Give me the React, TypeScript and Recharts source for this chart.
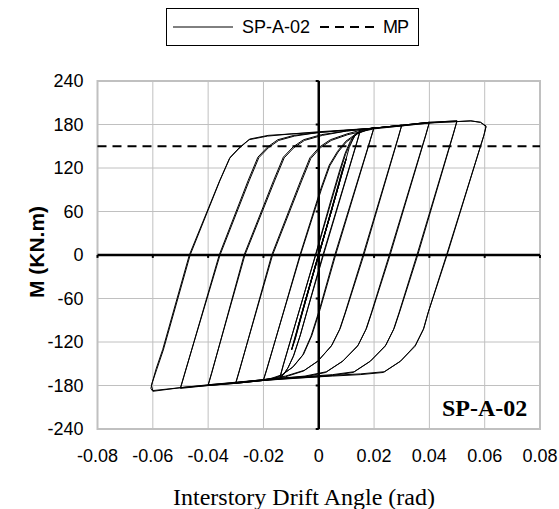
import {
  ScatterChart,
  Scatter,
  XAxis,
  YAxis,
  CartesianGrid,
  ReferenceLine,
  ReferenceArea,
  ReferenceDot,
  Legend,
  Label,
} from 'recharts';

// tick labels
const driftTicks = [-0.08, -0.06, -0.04, -0.02, 0, 0.02, 0.04, 0.06, 0.08];
const momentTicks = [-240, -180, -120, -60, 0, 60, 120, 180, 240];

// plastic moment of the section
const mpValue = 150;

// hysteresis record, [drift angle (rad), moment (kN.m)], grouped by amplitude
const cycle005 = [[0, 0], [0.0025, 33], [0.005, 66], [0.0025, 34], [0, 2], [-0.0025, -31], [-0.005, -65], [-0.0025, -33], [0, -1]];
const cycle0075 = [[0.0038, 50], [0.0075, 100], [0.004, 55], [0.0003, 4], [-0.0038, -49], [-0.0075, -99], [-0.004, -54], [-0.0003, -3]];
const cycle010 = [
  [0.005, 66], [0.0099, 133], [0.0085, 117], [0.0012, 16], [-0.005, -65], [-0.0098, -131], [-0.0085, -116], [-0.0012, -14],
  [0.005, 66], [0.0099, 132], [0.0085, 116], [0.0013, 17], [-0.005, -64], [-0.0098, -130], [-0.0085, -115], [-0.0013, -15],
];
const cycle015 = [
  [0.0, 2], [0.006, 80], [0.0095, 127], [0.011, 148], [0.0128, 163], [0.015, 172],
  [0.0138, 156], [0.0015, 0], [-0.004, -74], [-0.0068, -112], [-0.0092, -140], [-0.0112, -156], [-0.0128, -165], [-0.014, -169],
  [-0.0128, -152], [-0.0012, 0], [0.0045, 77], [0.0075, 116], [0.0095, 140], [0.0113, 156], [0.013, 166], [0.015, 171],
  [0.0138, 155], [0.0017, 0], [-0.0038, -72], [-0.0066, -110], [-0.009, -138], [-0.011, -155], [-0.0127, -165], [-0.014, -168],
  [-0.0128, -151], [-0.0011, 0], [0.0047, 76], [0.0077, 115], [0.0097, 139], [0.0115, 155], [0.0132, 165], [0.015, 171],
];
const cycle020 = [
  [0.017, 173], [0.02, 176],
  [0.0187, 160], [0.0058, 0], [0.0002, -76], [-0.0028, -112], [-0.0058, -138], [-0.0095, -155], [-0.0135, -166], [-0.017, -171], [-0.02, -173],
  [-0.0187, -157], [-0.0068, 0], [0.0008, 92], [0.0038, 124], [0.0068, 143], [0.0098, 157], [0.0138, 168], [0.017, 172], [0.02, 176],
  [0.0187, 159], [0.0061, 0], [0.0005, -75], [-0.0025, -111], [-0.0055, -137], [-0.0092, -154], [-0.0132, -165], [-0.017, -170], [-0.02, -172],
  [-0.0187, -156], [-0.0066, 0], [0.001, 91], [0.004, 123], [0.007, 142], [0.01, 156], [0.014, 167], [0.017, 172], [0.02, 175],
];
const cycle030 = [
  [0.025, 177], [0.03, 179],
  [0.0287, 162], [0.016, 0], [0.0095, -80], [0.0075, -103], [0.0045, -126], [-0.0005, -147], [-0.0055, -160], [-0.012, -168], [-0.02, -173], [-0.025, -175], [-0.03, -177],
  [-0.0287, -160], [-0.017, 0], [-0.0065, 103], [-0.0032, 134], [0.0003, 149], [0.0042, 159], [0.0102, 167], [0.015, 172], [0.02, 175], [0.025, 177], [0.03, 179],
  [0.0287, 161], [0.0163, 0], [0.0098, -78], [0.0078, -101], [0.0048, -124], [-0.0002, -146], [-0.0052, -159], [-0.012, -167], [-0.02, -172], [-0.03, -176],
  [-0.0287, -159], [-0.0167, 0], [-0.0062, 102], [-0.0029, 133], [0.0006, 148], [0.0045, 158], [0.0105, 166], [0.02, 174], [0.03, 178],
];
const cycle040 = [
  [0.035, 181], [0.04, 183],
  [0.0387, 166], [0.0255, 0], [0.019, -80], [0.017, -103], [0.014, -126], [0.0085, -147], [0.0025, -162], [-0.005, -168], [-0.012, -170], [-0.02, -173], [-0.03, -177], [-0.04, -180],
  [-0.0387, -163], [-0.027, 0], [-0.0163, 103], [-0.0128, 135], [-0.0093, 149], [-0.0055, 159], [0.001, 166], [0.01, 171], [0.02, 175], [0.03, 179], [0.04, 183],
  [0.0387, 165], [0.0258, 0], [0.0193, -78], [0.0173, -101], [0.0143, -124], [0.0088, -146], [0.0028, -161], [-0.005, -167], [-0.02, -172], [-0.03, -176], [-0.04, -179],
  [-0.0387, -162], [-0.0267, 0], [-0.016, 102], [-0.0125, 134], [-0.009, 148], [-0.0052, 158], [0.0013, 165], [0.01, 171], [0.02, 175], [0.03, 178], [0.04, 182],
];
const cycle050 = [
  [0.045, 184], [0.05, 185],
  [0.0487, 168], [0.0355, 0], [0.029, -80], [0.027, -103], [0.024, -126], [0.0185, -147], [0.0125, -162], [0.005, -166], [0.0, -168], [-0.01, -170], [-0.02, -173], [-0.03, -177], [-0.04, -180], [-0.05, -184],
  [-0.0487, -167], [-0.036, 0], [-0.0255, 103], [-0.022, 135], [-0.0185, 149], [-0.0148, 159], [-0.009, 165], [0.0, 169], [0.01, 172], [0.02, 175], [0.03, 179], [0.04, 183], [0.05, 185],
  [0.0487, 167], [0.0358, 0], [0.0293, -78], [0.0273, -101], [0.0243, -124], [0.0188, -146], [0.0128, -161], [0.005, -165], [-0.01, -169], [-0.03, -176], [-0.05, -183],
  [-0.0487, -166], [-0.0357, 0], [-0.0252, 102], [-0.0217, 134], [-0.0182, 148], [-0.0145, 158], [-0.0088, 164], [0.0, 169], [0.02, 175], [0.04, 183], [0.05, 184],
];
const cycle060 = [
  [0.055, 185], [0.0585, 183], [0.0605, 178],
  [0.0598, 166], [0.0462, 0], [0.0395, -80], [0.0378, -103], [0.0348, -126], [0.0294, -147], [0.0234, -162], [0.015, -165], [0.005, -167], [0.0, -168], [-0.02, -173], [-0.04, -180], [-0.05, -183], [-0.06, -188],
  [-0.0607, -184], [-0.0602, -176], [-0.0586, -158], [-0.0562, -131], [-0.0465, 0], [-0.0357, 103], [-0.032, 135], [-0.0285, 149], [-0.0249, 160], [-0.0183, 165], [-0.01, 167], [0.0, 170], [0.02, 175], [0.04, 182], [0.05, 184], [0.055, 185], [0.0585, 183], [0.0605, 177],
  [0.0597, 165], [0.0464, 0], [0.0397, -78], [0.038, -101], [0.035, -124], [0.0297, -146], [0.0237, -161], [0.015, -164], [0.0, -167], [-0.02, -172], [-0.04, -179], [-0.06, -187],
  [-0.0605, -180], [-0.0588, -157], [-0.0564, -130], [-0.0468, 0], [-0.036, 101], [-0.0323, 133], [-0.0288, 147], [-0.0252, 159], [-0.0185, 164], [-0.01, 167], [0.0, 169],
];

const hysteresis = [
  ...cycle005, ...cycle0075, ...cycle010, ...cycle015, ...cycle020,
  ...cycle030, ...cycle040, ...cycle050, ...cycle060,
].map(([x, y]) => ({ x, y }));

const sans = '"Liberation Sans", Arial, sans-serif';
const serif = '"Liberation Serif", "Times New Roman", serif';

function LegendBox() {
  return (
    <div
      style={{
        display: 'flex',
        alignItems: 'center',
        boxSizing: 'border-box',
        width: 253,
        height: 38,
        border: '1px solid #000',
        background: '#fff',
        padding: '0 6px',
        fontFamily: sans,
        fontSize: 18,
        color: '#000',
        whiteSpace: 'nowrap',
      }}
    >
      <svg width={60} height={4}>
        <line x1={0} y1={2} x2={60} y2={2} stroke="#000" strokeWidth={1} />
      </svg>
      <span style={{ marginLeft: 9, marginRight: 10 }}>SP-A-02</span>
      <svg width={60} height={4}>
        <line x1={0} y1={2} x2={60} y2={2} stroke="#000" strokeWidth={2} strokeDasharray="9 6" />
      </svg>
      <span style={{ marginLeft: 3, letterSpacing: -1 }}>MP</span>
    </div>
  );
}

export default function App() {
  return (
    <div style={{ position: 'absolute', left: 0, top: 0, width: 559, height: 509, background: '#fff' }}>
      <ScatterChart width={559} height={509} margin={{ top: 81, right: 19, bottom: 0, left: 0 }}>
        <CartesianGrid stroke="#c0c0c0" strokeWidth={1} />
        <ReferenceArea x1={-0.08} x2={0.08} y1={-240} y2={240} fill="none" fillOpacity={0} stroke="#c0c0c0" strokeWidth={2} />
        <XAxis
          type="number"
          dataKey="x"
          domain={[-0.08, 0.08]}
          ticks={driftTicks}
          interval={0}
          allowDataOverflow
          axisLine={false}
          tickLine={false}
          tickSize={0}
          tickMargin={20}
          height={80}
          tick={{ fill: '#000', fontSize: 18, fontFamily: sans }}
        >
          <Label
            content={() => (
              <text x={304} y={505} textAnchor="middle" fontFamily={serif} fontSize={24} fill="#000">
                Interstory Drift Angle (rad)
              </text>
            )}
          />
        </XAxis>
        <YAxis
          type="number"
          dataKey="y"
          domain={[-240, 240]}
          ticks={momentTicks}
          interval={0}
          allowDataOverflow
          axisLine={false}
          tickLine={false}
          tickSize={0}
          tickMargin={14}
          width={97.5}
          tick={{ fill: '#000', fontSize: 18, fontFamily: sans }}
        >
          <Label
            content={() => (
              <text
                transform="translate(36,252) rotate(-90)"
                textAnchor="middle"
                dominantBaseline="central"
                fontFamily={sans}
                fontWeight="bold"
                fontSize={21}
                fill="#000"
              >
                M (KN.m)
              </text>
            )}
          />
        </YAxis>
        <ReferenceLine y={mpValue} stroke="#000" strokeWidth={2} strokeDasharray="9 6" />
        <Scatter
          name="SP-A-02"
          data={hysteresis}
          line={{ stroke: '#000', strokeWidth: 1 }}
          shape={() => <g />}
          isAnimationActive={false}
        />
        <ReferenceLine y={0} stroke="#000" strokeWidth={2.5} />
        <ReferenceLine x={0} stroke="#000" strokeWidth={2.5} />
        {driftTicks.map((t) => (
          <ReferenceLine key={'xt' + t} segment={[{ x: t, y: 0 }, { x: t, y: -4 }]} stroke="#000" strokeWidth={2} />
        ))}
        {momentTicks.map((t) => (
          <ReferenceLine key={'yt' + t} segment={[{ x: 0, y: t }, { x: -0.0011, y: t }]} stroke="#000" strokeWidth={2} />
        ))}
        <ReferenceDot
          x={0.06}
          y={-210}
          r={0}
          fill="none"
          stroke="none"
          label={{ value: 'SP-A-02', position: 'center', fontFamily: serif, fontWeight: 'bold', fontSize: 24, fill: '#000' }}
        />
        <Legend
          layout="vertical"
          align="center"
          verticalAlign="middle"
          content={() => <LegendBox />}
          wrapperStyle={{ top: 8, left: 166, width: 'auto', height: 'auto' }}
        />
      </ScatterChart>
    </div>
  );
}
